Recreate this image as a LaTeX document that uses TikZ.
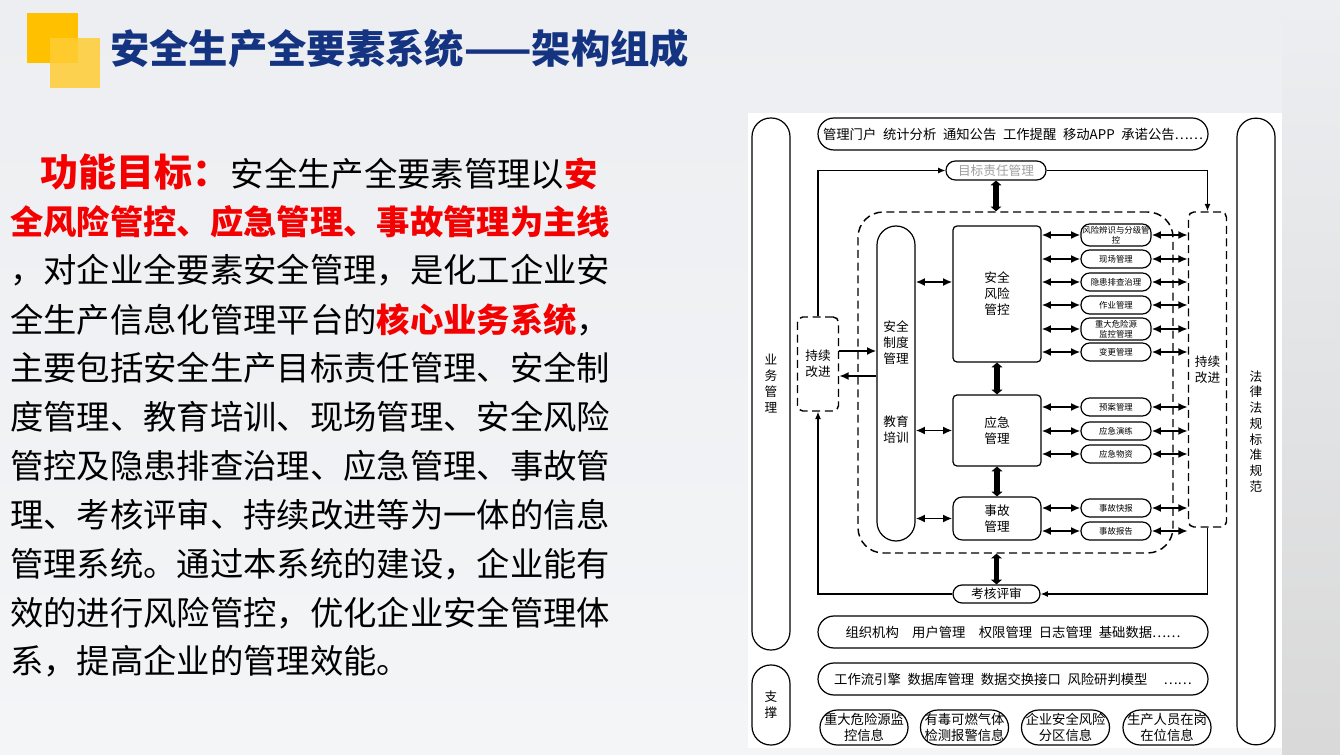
\documentclass[tikz,border=0pt]{standalone}
\usepackage{fontspec}
\setmainfont{Noto Sans CJK SC}
\usetikzlibrary{arrows.meta}

\definecolor{titleblue}{RGB}{20,52,130}
\definecolor{keyred}{RGB}{245,0,0}
\definecolor{sqyellow}{RGB}{255,192,0}
\definecolor{sqlight}{RGB}{255,204,51}
\newcommand{\fs}[2]{\fontsize{#1}{#2}\selectfont}
\newcommand{\gap}{\hspace{5pt}}

\tikzset{
  frame/.style={draw, line width=0.9pt, inner sep=0pt, align=center},
  capsule/.style={frame, rounded corners=#1},
  dashframe/.style={frame, dash pattern=on 6pt off 3.5pt, line width=1.1pt, rounded corners=#1},
  subbox/.style={capsule=6.5pt, minimum width=52.5pt, font=\fs{6.3}{7.2}},
  databox/.style={capsule=13pt, minimum width=66pt, minimum height=26.25pt, font=\fs{10}{12}},
  vtext/.style={inner sep=0pt, align=center, font=\fs{9.5}{12}},
  biarrow/.style={line width=1.4pt, {Latex[length=7pt,width=6pt]}-{Latex[length=7pt,width=6pt]}},
  onearrow/.style={line width=1.4pt, -{Latex[length=7pt,width=6pt]}},
  flow/.style={line width=0.9pt, -{Latex[length=5.5pt,width=4.5pt]}},
  fatarrow/.style={line width=4pt, {Triangle[length=3.5pt,width=8pt]}-{Triangle[length=3.5pt,width=8pt]}},
  bodyline/.style={anchor=west, inner sep=0pt, font=\fs{25}{30}},
}

\begin{document}
\begin{tikzpicture}[x=0.75pt,y=-0.75pt]
\useasboundingbox (0,0) rectangle (1340,755);
% background
\shade[top color={rgb,255:red,236;green,238;blue,241}, middle color={rgb,255:red,250;green,250;blue,251},
  bottom color={rgb,255:red,244;green,245;blue,247}] (0,0) rectangle (1340,755);
\shade[top color={rgb,255:red,236;green,238;blue,241}, middle color={rgb,255:red,238;green,239;blue,241},
  bottom color=gray!30] (1282,0) rectangle (1340,755);

% title
\fill[sqyellow] (27,13) rectangle (78,63);
\fill[sqlight, opacity=0.85] (50,38) rectangle (100,88);
\node[anchor=west, inner sep=0pt, text=titleblue, font=\fs{29.5}{30}\bfseries] (title) at (110,49) {安全生产全要素系统——架构组成};

% body text
\node[anchor=west, inner sep=0pt, text=keyred, font=\fs{28.5}{30}\bfseries] (goal) at (40,172) {功能目标：};
\node[anchor=base west, inner sep=0pt, font=\fs{25}{30}] (l1) at (goal.base east) {安全生产全要素管理以\textcolor{keyred}{\textbf{安}}};
\node[bodyline, text=keyred, font=\fs{25}{30}\bfseries] (l2) at (10,222) {全风险管控、应急管理、事故管理为主线};
\node[bodyline] (l3) at (10,270) {，对企业全要素安全管理，是化工企业安};
\node[bodyline] (l4) at (10,320) {全生产信息化管理平台的\textcolor{keyred}{\textbf{核心业务系统}}，};
\node[bodyline] (l5) at (10,368) {主要包括安全生产目标责任管理、安全制};
\node[bodyline] (l6) at (10,417) {度管理、教育培训、现场管理、安全风险};
\node[bodyline] (l7) at (10,466) {管控及隐患排查治理、应急管理、事故管};
\node[bodyline] (l8) at (10,515) {理、考核评审、持续改进等为一体的信息};
\node[bodyline] (l9) at (10,564) {管理系统。通过本系统的建设，企业能有};
\node[bodyline] (l10) at (10,613) {效的进行风险管控，优化企业安全管理体};
\node[bodyline] (l11) at (10,661) {系，提高企业的管理效能。};

% diagram panel
\fill[white] (748,113) rectangle (1282,748);

% side columns
\node[capsule=14pt, minimum width=28.5pt, minimum height=399pt, font=\fs{9.5}{12}] (yewu) at (771,384) {业\\务\\管\\理};
\node[capsule=14pt, minimum width=28.5pt, minimum height=60pt, font=\fs{9.5}{12}] (zhicheng) at (771,705) {支\\撑};
\node[capsule=14pt, minimum width=28.5pt, minimum height=470pt, font=\fs{9.5}{11.8}] (falv) at (1256,431.5) {法\\律\\法\\规\\标\\准\\规\\范};

% top layer
\node[capsule=12pt, minimum width=292.5pt, minimum height=24pt, font=\fs{10}{12}] (portal) at (1013,134)
  {管理门户\gap{}统计分析\gap{}通知公告\gap{}工作提醒\gap{}移动APP\gap{}承诺公告……};
\node[capsule=7pt, minimum width=75pt, minimum height=14.25pt, text=gray!75, font=\fs{9.5}{11}] (mubiao) at (996,170.5) {目标责任管理};

% core business area
\node[dashframe=19pt, minimum width=236.25pt, minimum height=255.75pt] (core) at (1015.5,382.5) {};
\node[dashframe=4pt, minimum width=30.75pt, minimum height=70.5pt, font=\fs{9.5}{12}] (gaijinL) at (818,364) {持续\\改进};
\node[dashframe=4pt, minimum width=28.5pt, minimum height=236.25pt, font=\fs{9.5}{12}] (gaijinR) at (1207.5,369.5) {持续\\改进};
\node[capsule=14.25pt, minimum width=28.5pt, minimum height=236.25pt] (zhidu) at (896,383.5) {};
\node[vtext] (zdtext) at (896,343) {安全\\制度\\管理};
\node[vtext] (jytext) at (896,430) {教育\\培训};
\node[capsule=3pt, minimum width=66pt, minimum height=102pt, font=\fs{9.5}{12}] (fengxian) at (997,294) {安全\\风险\\管控};
\node[capsule=3pt, minimum width=66pt, minimum height=53.25pt, font=\fs{9.5}{12}] (yingji) at (997,430.5) {应急\\管理};
\node[capsule=7pt, minimum width=66pt, minimum height=32.25pt, font=\fs{9.5}{12}] (shigu) at (997,518.5) {事故\\管理};
\node[capsule=6.75pt, minimum width=65.25pt, minimum height=13.5pt, font=\fs{9.5}{11}] (kaohe) at (996.5,594) {考核评审};

% sub modules
\foreach \nm/\yy/\hh/\txt/\hub in {
  sbA/235/16.5/{风险辨识与分级管\\控}/fengxian,
  sbB/259/13.5/{现场管理}/fengxian,
  sbC/282/13.5/{隐患排查治理}/fengxian,
  sbD/305/13.5/{作业管理}/fengxian,
  sbE/329/16.5/{重大危险源\\监控管理}/fengxian,
  sbF/352/13.5/{变更管理}/fengxian,
  sbG/407/13.5/{预案管理}/yingji,
  sbH/431/13.5/{应急演练}/yingji,
  sbI/454/13.5/{应急物资}/yingji,
  sbJ/508/13.5/{事故快报}/shigu,
  sbK/531/13.5/{事故报告}/shigu}{
  \node[subbox, minimum height=\hh pt] (\nm) at (1116,\yy) {\txt};
  \draw[biarrow] (\hub.east |- \nm.west) -- (\nm.west);
  \draw[biarrow] (\nm.east) -- (\nm.east -| gaijinR.west);
}

% links
\draw[flow] (gaijinL.north) |- (mubiao.west);
\draw[flow] (mubiao.east) -| (gaijinR.north);
\draw[fatarrow] (mubiao.south) -- (mubiao.south |- core.north);
\draw[onearrow] (gaijinL.east |- 0,351) -- (zhidu.west |- 0,351);
\draw[onearrow] (zhidu.west |- 0,376) -- (gaijinL.east |- 0,376);
\draw[biarrow] (zhidu.east |- 0,282) -- (fengxian.west |- 0,282);
\draw[biarrow] (zhidu.east |- yingji.west) -- (yingji.west);
\draw[biarrow] (zhidu.east |- shigu.west) -- (shigu.west);
\draw[fatarrow] (fengxian.south) -- (yingji.north);
\draw[fatarrow] (yingji.south) -- (shigu.north);
\draw[fatarrow] (kaohe.north |- core.south) -- (kaohe.north);
\draw[flow] (gaijinR.south) |- (kaohe.east);
\draw[flow] (kaohe.west) -| (gaijinL.south);

% support layers
\node[capsule=12pt, minimum width=292.5pt, minimum height=24pt, font=\fs{10}{12}] (zuzhi) at (1013,632)
  {组织机构\hspace{10pt}用户管理\hspace{10pt}权限管理\gap{}日志管理\gap{}基础数据……};
\node[capsule=12pt, minimum width=292.5pt, minimum height=24pt, font=\fs{10}{12}] (gongzuo) at (1013,679)
  {工作流引擎\gap{}数据库管理\gap{}数据交换接口\gap{}风险研判模型\hspace{12pt}……};
\node[databox] (dA) at (864,727.5) {重大危险源监\\控信息};
\node[databox] (dB) at (964.5,727.5) {有毒可燃气体\\检测报警信息};
\node[databox] (dC) at (1065.5,727.5) {企业安全风险\\分区信息};
\node[databox] (dD) at (1167,727.5) {生产人员在岗\\在位信息};
\end{tikzpicture}
\end{document}
